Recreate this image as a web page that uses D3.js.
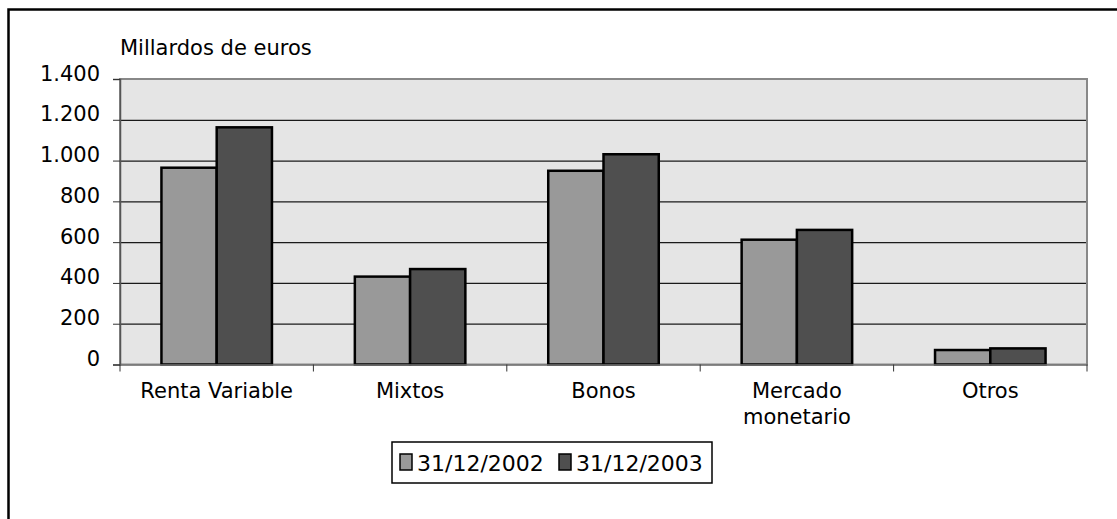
<!DOCTYPE html>
<html>
<head>
<meta charset="utf-8">
<script src="https://cdn.jsdelivr.net/npm/d3@7"></script>
<style>
  body { margin: 0; background: #fff; }
  text { font-family: "DejaVu Sans", Verdana, sans-serif; fill: #000; }
</style>
</head>
<body>
<svg id="chart"></svg>
<script>
var categories = ["Renta Variable", "Mixtos", "Bonos", "Mercado monetario", "Otros"];
var categoryLines = [["Renta Variable"], ["Mixtos"], ["Bonos"], ["Mercado", "monetario"], ["Otros"]];
var series = ["31/12/2002", "31/12/2003"];
var values2002 = [965, 431, 950, 612, 71];
var values2003 = [1163, 468, 1031, 660, 79];
var tickValues = [0, 200, 400, 600, 800, 1000, 1200, 1400];
var tickLabels = ["0", "200", "400", "600", "800", "1.000", "1.200", "1.400"];

var colors = ["#999999", "#4f4f4f"];
var svgWidth = 1117, svgHeight = 519;
var plotLeft = 120, plotRight = 1087, plotTop = 79, plotBottom = 364.5;

var chart = d3.select('#chart')
	.attr('width', svgWidth)
	.attr('height', svgHeight);

// outer frame (runs off right and bottom edge)
chart.append('rect')
	.attr('x', 8.5).attr('y', 9.5)
	.attr('width', 1200).attr('height', 600)
	.attr('fill', 'none')
	.attr('stroke', '#000')
	.attr('stroke-width', 2.5);

var x0 = d3.scaleBand()
	.domain(categories)
	.range([plotLeft, plotRight])
	.padding(0);

var groupW = x0.bandwidth() * 2 / 3.5;
var x1 = d3.scaleBand()
	.domain(series)
	.range([0, groupW]);

var y = d3.scaleLinear()
	.domain([0, 1400])
	.range([plotBottom, plotTop]);

// plot background
chart.append('rect')
	.attr('x', plotLeft).attr('y', plotTop)
	.attr('width', plotRight - plotLeft).attr('height', plotBottom - plotTop)
	.attr('fill', '#e5e5e5');

// gridlines
chart.append('g')
	.attr('transform', 'translate(' + plotLeft + ',0)')
	.call(d3.axisLeft(y).tickValues(tickValues.slice(1, -1)).tickSize(-(plotRight - plotLeft)).tickFormat(''))
	.call(function(g){ g.select('.domain').remove(); })
	.selectAll('line')
	.attr('stroke', '#1a1a1a')
	.attr('stroke-width', 1.2);

// plot border
chart.append('rect')
	.attr('x', plotLeft).attr('y', plotTop)
	.attr('width', plotRight - plotLeft).attr('height', plotBottom - plotTop)
	.attr('fill', 'none')
	.attr('stroke', '#888')
	.attr('stroke-width', 2);

// bars
var rows = categories.map(function(c, i){
	return {cat: c, vals: [values2002[i], values2003[i]]};
});

var groups = chart.append('g').attr('id', 'bars')
	.selectAll('g')
	.data(rows)
	.enter().append('g')
	.attr('transform', function(d){
		return 'translate(' + (x0(d.cat) + (x0.bandwidth() - groupW) / 2) + ',0)';
	});

groups.selectAll('rect')
	.data(function(d){
		return d.vals.map(function(v, j){ return {s: series[j], v: v, j: j}; });
	})
	.enter().append('rect')
	.attr('x', function(d){ return x1(d.s); })
	.attr('y', function(d){ return y(d.v); })
	.attr('width', x1.bandwidth())
	.attr('height', function(d){ return plotBottom - y(d.v); })
	.attr('fill', function(d){ return colors[d.j]; })
	.attr('stroke', '#000')
	.attr('stroke-width', 2.5);

// y axis
var yAxis = chart.append('g')
	.attr('transform', 'translate(' + plotLeft + ',0)')
	.call(d3.axisLeft(y).tickValues(tickValues).tickSize(7).tickPadding(13)
		.tickFormat(function(d, i){ return tickLabels[i]; }));
yAxis.select('.domain').attr('stroke', '#555').attr('stroke-width', 1.5);
yAxis.selectAll('line').attr('stroke', '#333');
yAxis.selectAll('text')
	.style('font-size', '21px')
	.attr('dy', '0.05em');

// x axis ticks at category borders
var xAxis = chart.append('g')
	.attr('transform', 'translate(0,' + plotBottom + ')')
	.call(d3.axisBottom(x0).tickSize(0).tickFormat(''));
xAxis.select('.domain').attr('stroke', '#777').attr('stroke-width', 1.5);

var borders = categories.map(function(c){ return x0(c); }).concat([plotRight]);
xAxis.selectAll('.border')
	.data(borders)
	.enter().append('line')
	.attr('x1', function(d){ return d; }).attr('x2', function(d){ return d; })
	.attr('y1', 0).attr('y2', 7)
	.attr('stroke', '#333');

// category labels
var labels = chart.append('g').selectAll('text')
	.data(categories)
	.enter().append('text')
	.attr('text-anchor', 'middle')
	.style('font-size', '21px')
	.attr('x', function(d){ return x0(d) + x0.bandwidth() / 2; })
	.attr('y', plotBottom + 33);

labels.selectAll('tspan')
	.data(function(d, i){ return categoryLines[i]; })
	.enter().append('tspan')
	.attr('x', function(){ return d3.select(this.parentNode).attr('x'); })
	.attr('dy', function(d, i){ return i === 0 ? 0 : 26; })
	.text(function(d){ return d; });

// axis title
chart.append('text')
	.attr('x', plotLeft).attr('y', 55)
	.style('font-size', '21px')
	.text('Millardos de euros');

// legend
var legend = chart.append('g').attr('transform', 'translate(392,442)');
legend.append('rect')
	.attr('width', 320).attr('height', 41)
	.attr('fill', '#fff')
	.attr('stroke', '#000')
	.attr('stroke-width', 1.5);

var items = legend.selectAll('.item')
	.data(series)
	.enter().append('g')
	.attr('transform', function(d, i){ return 'translate(' + (8 + i * 159) + ',0)'; });

items.append('rect')
	.attr('x', 0).attr('y', 12)
	.attr('width', 12).attr('height', 16)
	.attr('fill', function(d, i){ return colors[i]; })
	.attr('stroke', '#000')
	.attr('stroke-width', 1.5);

items.append('text')
	.attr('x', 17).attr('y', 29)
	.style('font-size', '22px')
	.text(function(d){ return d; });
</script>
</body>
</html>
